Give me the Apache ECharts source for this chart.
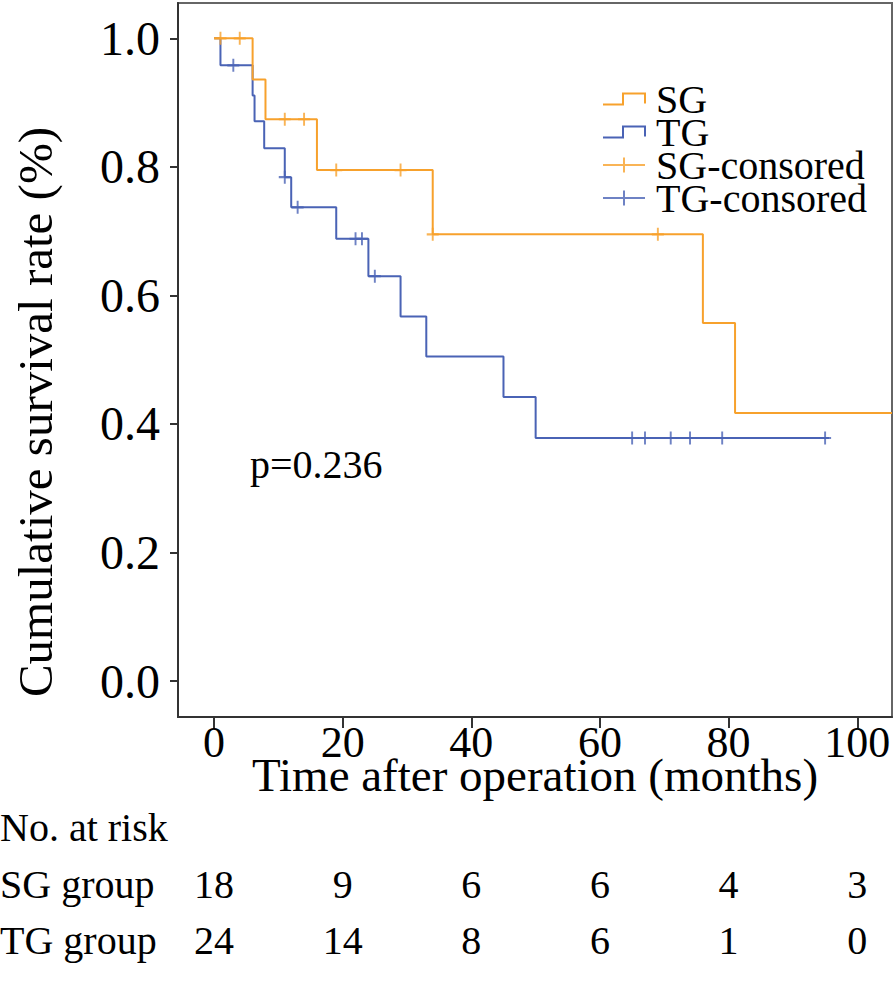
<!DOCTYPE html>
<html><head><meta charset="utf-8">
<script src="https://cdn.jsdelivr.net/npm/echarts@6/dist/echarts.min.js"></script>
<style>html,body{margin:0;padding:0;background:#fff}#c{width:896px;height:986px}</style>
</head><body><div id="c"></div>
<script>
// ---- data ----
const sgTimes = [0, 6, 8, 16, 34, 76, 81, 105.4];
const sgSurv  = [1.0, 0.936, 0.874, 0.795, 0.695, 0.557, 0.417, 0.417];
const tgTimes = [0, 1, 6, 6.3, 7.8, 11, 12, 19, 24, 29, 33, 45, 50, 95.6];
const tgSurv  = [1.0, 0.958, 0.911, 0.871, 0.829, 0.784, 0.737, 0.688, 0.630, 0.567, 0.505, 0.442, 0.378, 0.378];
const sgCensTimes = [1, 4, 11, 14, 19, 29, 34, 69];
const sgCensSurv  = [1.0, 1.0, 0.874, 0.874, 0.795, 0.795, 0.695, 0.695];
const tgCensTimes = [3, 11, 13, 22, 23, 25, 65, 67, 71, 74, 79, 95];
const tgCensSurv  = [0.958, 0.784, 0.737, 0.688, 0.688, 0.630, 0.378, 0.378, 0.378, 0.378, 0.378, 0.378];
const xTicks = [0, 20, 40, 60, 80, 100];
const yTicks = [0, 0.2, 0.4, 0.6, 0.8, 1.0];
const riskGroups = ['SG group', 'TG group'];
const atRiskSG = [18, 9, 6, 6, 4, 3];
const atRiskTG = [24, 14, 8, 6, 1, 0];
const pText = 'p=0.236';

// ---- style ----
const ORANGE = '#F7A12C';
const BLUE = '#4A63B5';
const FONT = 'Liberation Serif';
const zip = (a, b) => a.map((v, i) => [v, b[i]]);
const stepIcon = 'path://M0,11L20,11L20,0L42,0L42,10';
const plusIcon = 'path://M0,7.5L42,7.5M21,0L21,15';
const plusSym = 'path://M0,6L12,6M6,0L6,12';

const chart = echarts.init(document.getElementById('c'), null, {renderer: 'svg'});
chart.setOption({
  animation: false,
  backgroundColor: '#fff',
  textStyle: {fontFamily: FONT},
  grid: {left: 178, right: 4, top: 3, bottom: 269, show: true, borderColor: '#666', borderWidth: 2, containLabel: false},
  xAxis: {
    type: 'value', min: -5.6, max: 105.4,
    splitLine: {show: false},
    axisLine: {onZero: false, lineStyle: {color: '#333', width: 2}},
    axisTick: {show: true, length: 11, lineStyle: {color: '#333', width: 2}, customValues: xTicks},
    axisLabel: {fontFamily: FONT, fontSize: 44, lineHeight: 32, color: '#000', margin: 9, customValues: xTicks},
    name: 'Time after operation (months)', nameLocation: 'middle', nameGap: 42, nameMoveOverlap: false,
    nameTextStyle: {fontFamily: FONT, fontSize: 47, lineHeight: 32, color: '#000'}
  },
  yAxis: {
    type: 'value', min: -0.056, max: 1.055,
    splitLine: {show: false},
    axisLine: {onZero: false, lineStyle: {color: '#333', width: 2}},
    axisTick: {show: true, length: 8, lineStyle: {color: '#333', width: 2}, customValues: yTicks},
    axisLabel: {fontFamily: FONT, fontSize: 48, color: '#000', margin: 18, customValues: yTicks,
      formatter: v => v.toFixed(1)},
    name: 'Cumulative survival rate (%)', nameLocation: 'middle', nameGap: 118, nameMoveOverlap: false,
    nameTextStyle: {fontFamily: FONT, fontSize: 49, color: '#000', padding: [0, 104, 0, 0]}
  },
  legend: {
    orient: 'vertical', left: 597, top: 74, itemWidth: 42, itemHeight: 15, itemGap: -7,
    selectedMode: false,
    textStyle: {fontFamily: FONT, fontSize: 40, color: '#000', padding: [0, 0, 0, 6]},
    data: [
      {name: 'SG', icon: stepIcon, itemStyle: {color: 'rgba(0,0,0,0)', borderColor: ORANGE, borderWidth: 2}},
      {name: 'TG', icon: stepIcon, itemStyle: {color: 'rgba(0,0,0,0)', borderColor: BLUE, borderWidth: 2}},
      {name: 'SG-consored', icon: plusIcon, itemStyle: {color: 'rgba(0,0,0,0)', borderColor: ORANGE, borderWidth: 2}},
      {name: 'TG-consored', icon: plusIcon, itemStyle: {color: 'rgba(0,0,0,0)', borderColor: BLUE, borderWidth: 2}}
    ]
  },
  series: [
    {name: 'SG', type: 'line', step: 'end', data: zip(sgTimes, sgSurv), showSymbol: false, symbol: 'none',
     lineStyle: {color: ORANGE, width: 2}, itemStyle: {color: ORANGE}, silent: true, z: 3},
    {name: 'TG', type: 'line', step: 'end', data: zip(tgTimes, tgSurv), showSymbol: false, symbol: 'none',
     lineStyle: {color: BLUE, width: 2}, itemStyle: {color: BLUE}, silent: true, z: 2},
    {name: 'SG-consored', type: 'scatter', data: zip(sgCensTimes, sgCensSurv), symbol: plusSym, symbolSize: [12, 13],
     itemStyle: {color: 'rgba(0,0,0,0)', borderColor: ORANGE, borderWidth: 2}, silent: true, z: 4},
    {name: 'TG-consored', type: 'scatter', data: zip(tgCensTimes, tgCensSurv), symbol: plusSym, symbolSize: [12, 13],
     itemStyle: {color: 'rgba(0,0,0,0)', borderColor: BLUE, borderWidth: 2}, silent: true, z: 4}
  ]
});

// annotation + number-at-risk table
const txt = (text, x, y, align) => ({type: 'text', x: x, y: y,
  style: {text: text, fontFamily: FONT, fontSize: 40, fill: '#000', align: align || 'left', verticalAlign: 'middle'}});
const els = [];
const pPos = chart.convertToPixel({xAxisIndex: 0, yAxisIndex: 0}, [5.6, 0.337]);
els.push(txt(pText, pPos[0], pPos[1]));
els.push(txt('No. at risk', 0, 827));
els.push(txt(riskGroups[0], 0, 884));
els.push(txt(riskGroups[1], 0, 940));
xTicks.forEach((t, i) => {
  const px = chart.convertToPixel({xAxisIndex: 0}, t);
  els.push(txt(String(atRiskSG[i]), px, 884, 'center'));
  els.push(txt(String(atRiskTG[i]), px, 940, 'center'));
});
chart.setOption({graphic: els});
</script></body></html>
